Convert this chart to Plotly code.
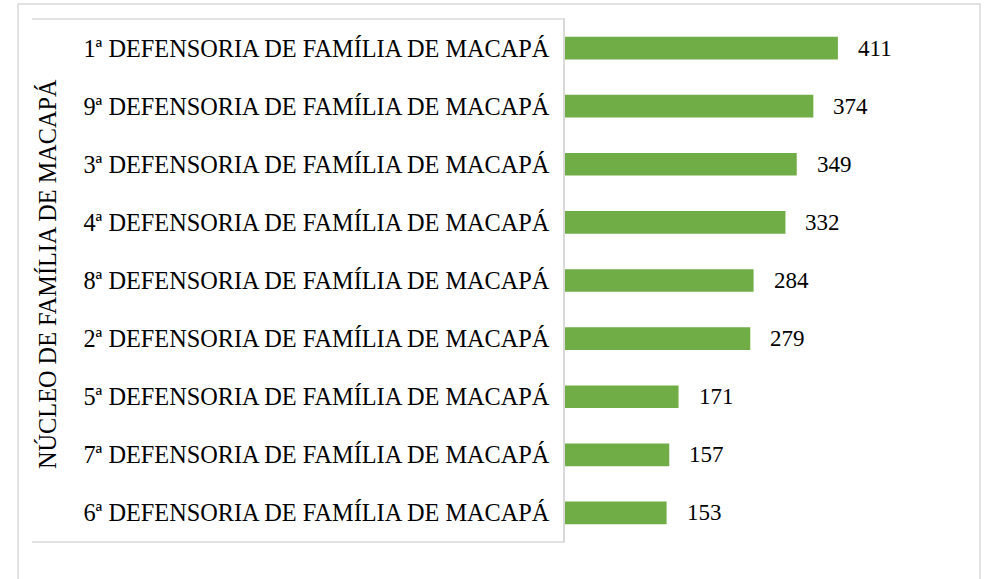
import plotly.graph_objects as go

categories = [
    "1ª DEFENSORIA DE FAMÍLIA DE MACAPÁ",
    "9ª DEFENSORIA DE FAMÍLIA DE MACAPÁ",
    "3ª DEFENSORIA DE FAMÍLIA DE MACAPÁ",
    "4ª DEFENSORIA DE FAMÍLIA DE MACAPÁ",
    "8ª DEFENSORIA DE FAMÍLIA DE MACAPÁ",
    "2ª DEFENSORIA DE FAMÍLIA DE MACAPÁ",
    "5ª DEFENSORIA DE FAMÍLIA DE MACAPÁ",
    "7ª DEFENSORIA DE FAMÍLIA DE MACAPÁ",
    "6ª DEFENSORIA DE FAMÍLIA DE MACAPÁ",
]
values = [411, 374, 349, 332, 284, 279, 171, 157, 153]
group_label = "NÚCLEO DE FAMÍLIA DE MACAPÁ"

W, H = 988, 579
L, R, T, B = 565, 38, 19, 37
PW = W - L - R
PH = H - T - B
FONT = "Liberation Serif"
GRID = "#d9d9d9"

def px_x(px):
    return (px - L) / PW

def px_y(py):
    return (H - B - py) / PH

fig = go.Figure()
fig.add_trace(go.Bar(
    x=values, y=categories, orientation="h",
    marker=dict(color="#70AD47", line=dict(width=0)),
    width=0.39, hoverinfo="skip",
))

annotations = []
for c, v in zip(categories, values):
    annotations.append(dict(
        x=v, y=c, xref="x", yref="y", text=str(v), showarrow=False,
        xanchor="left", yanchor="middle", xshift=18,
        font=dict(family=FONT, size=23, color="#000000"),
    ))
annotations.append(dict(
    x=px_x(47), y=px_y(274), xref="paper", yref="paper", text=group_label,
    showarrow=False, textangle=-90, xanchor="center", yanchor="middle",
    font=dict(family=FONT, size=24.3, color="#000000"),
))

shapes = [
    dict(type="rect", xref="paper", yref="paper",
         x0=px_x(18), x1=px_x(980), y0=px_y(600), y1=px_y(4),
         line=dict(color=GRID, width=1.5), layer="below"),
    dict(type="line", xref="paper", yref="paper",
         x0=px_x(32), x1=px_x(565), y0=px_y(19), y1=px_y(19),
         line=dict(color=GRID, width=1.5)),
    dict(type="line", xref="paper", yref="paper",
         x0=px_x(32), x1=px_x(565), y0=px_y(542), y1=px_y(542),
         line=dict(color=GRID, width=1.5)),
]

fig.update_layout(
    width=W, height=H,
    margin=dict(l=L, r=R, t=T, b=B, autoexpand=False),
    paper_bgcolor="white", plot_bgcolor="white",
    showlegend=False,
    font=dict(family=FONT),
    annotations=annotations, shapes=shapes,
    xaxis=dict(range=[0, PW / 0.664], visible=False, fixedrange=True),
    yaxis=dict(
        categoryorder="array", categoryarray=categories,
        autorange=False, range=[8.5, -0.5],
        showline=True, linecolor=GRID, linewidth=1.5,
        ticks="", showgrid=False, zeroline=False,
        ticklabelstandoff=9,
        tickfont=dict(family=FONT, size=24.3, color="#000000"),
        automargin=False, fixedrange=True,
    ),
)

fig.write_html("out.html")
